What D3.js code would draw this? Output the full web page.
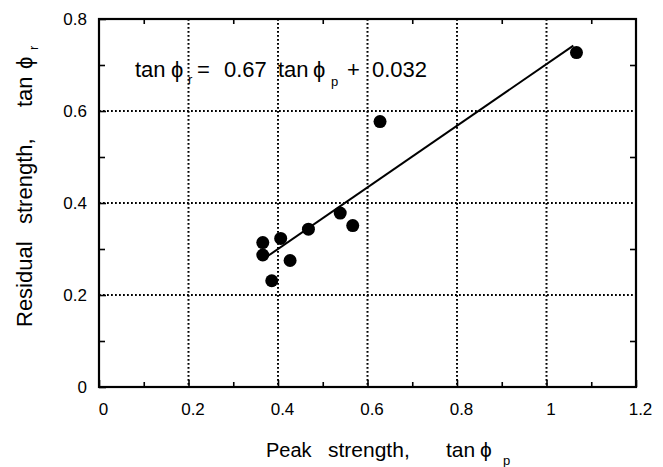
<!DOCTYPE html>
<html>
<head>
<meta charset="utf-8">
<script src="https://cdn.jsdelivr.net/npm/d3@7"></script>
<style>
  body { margin: 0; background: #fff; }
  svg { display: block; font-family: "Liberation Sans", Arial, sans-serif; }
  text { white-space: pre; }
</style>
</head>
<body>
<div id="chart"></div>
<script>
// measured points (peak tan phi, residual tan phi)
var peak = [0.366, 0.366, 0.406, 0.427, 0.386, 0.468, 0.539, 0.567, 0.628, 1.067]
var residual = [0.314, 0.287, 0.323, 0.275, 0.231, 0.343, 0.378, 0.351, 0.577, 0.727]

// regression line tan phi_r = 0.67 tan phi_p + 0.032
var slope = 0.67, intercept = 0.032
var fitRange = [0.37, 1.06]

var xTicks = [0, 0.2, 0.4, 0.6, 0.8, 1, 1.2]
var yTicks = [0, 0.2, 0.4, 0.6, 0.8]
var minorX = [0.1, 0.3, 0.5, 0.7, 0.9, 1.1]
var minorY = [0.1, 0.3, 0.5, 0.7]

var W = 663, H = 467
var margin = {top: 19, right: 27, bottom: 80, left: 99}
var width = W - margin.left - margin.right,
    height = H - margin.top - margin.bottom

var svg = d3.select("#chart").append("svg")
    .attr("width", W)
    .attr("height", H)
var g = svg.append("g")
    .attr("transform", "translate(" + margin.left + "," + margin.top + ")")

var x = d3.scaleLinear().domain([0, 1.2]).range([0, width])
var y = d3.scaleLinear().domain([0, 0.8]).range([height, 0])

// dotted grid
g.append("g").selectAll("line")
  .data(xTicks.slice(1, -1))
  .enter().append("line")
    .attr("x1", d => x(d)).attr("x2", d => x(d))
    .attr("y1", 0).attr("y2", height)
    .attr("stroke", "#000").attr("stroke-width", 2)
    .attr("stroke-dasharray", "1.8,2.2")
g.append("g").selectAll("line")
  .data(yTicks.slice(1, -1))
  .enter().append("line")
    .attr("y1", d => y(d)).attr("y2", d => y(d))
    .attr("x1", 0).attr("x2", width)
    .attr("stroke", "#000").attr("stroke-width", 2)
    .attr("stroke-dasharray", "1.8,2.2")

// axes with inward ticks on all sides
function tickAxis(axis, transform) {
  g.append("g").attr("transform", transform).call(axis)
    .call(a => a.select(".domain").remove())
    .selectAll("line").attr("stroke", "#000").attr("stroke-width", 1.6)
}
tickAxis(d3.axisBottom(x).tickValues(minorX).tickSize(-5).tickFormat(""), "translate(0," + height + ")")
tickAxis(d3.axisTop(x).tickValues(minorX).tickSize(-5).tickFormat(""), "translate(0,0)")
tickAxis(d3.axisLeft(y).tickValues(minorY).tickSize(-6).tickFormat(""), "translate(0,0)")
tickAxis(d3.axisRight(y).tickValues(minorY).tickSize(-6).tickFormat(""), "translate(" + width + ",0)")
tickAxis(d3.axisBottom(x).tickValues(xTicks).tickSize(-7).tickFormat(""), "translate(0," + height + ")")
tickAxis(d3.axisLeft(y).tickValues(yTicks).tickSize(-7).tickFormat(""), "translate(0,0)")

// tick labels
var xl = g.append("g").attr("transform", "translate(0," + height + ")")
  .call(d3.axisBottom(x).tickValues(xTicks).tickSize(0).tickPadding(16).tickFormat(d3.format("")))
xl.select(".domain").remove()
xl.attr("font-size", 17).attr("font-family", "Liberation Sans, Arial, sans-serif")
xl.selectAll("text").attr("fill", "#000").attr("dx", 4)

var yl = g.append("g")
  .call(d3.axisLeft(y).tickValues(yTicks).tickSize(0).tickPadding(12).tickFormat(d3.format("")))
yl.select(".domain").remove()
yl.attr("font-size", 17).attr("font-family", "Liberation Sans, Arial, sans-serif")
yl.selectAll("text").attr("fill", "#000")

// frame
g.append("rect")
  .attr("width", width).attr("height", height)
  .attr("fill", "none").attr("stroke", "#000").attr("stroke-width", 2.2)

// fit line
g.append("line")
  .attr("x1", x(fitRange[0])).attr("y1", y(slope * fitRange[0] + intercept))
  .attr("x2", x(fitRange[1])).attr("y2", y(slope * fitRange[1] + intercept))
  .attr("stroke", "#000").attr("stroke-width", 2)

// points
g.append("g").selectAll("circle")
  .data(peak.map((p, i) => [p, residual[i]]))
  .enter().append("circle")
    .attr("cx", d => x(d[0]))
    .attr("cy", d => y(d[1]))
    .attr("r", 6.5)
    .attr("fill", "#000")

// text helper: pieces [string, x, baseline y, size]
function label(parent, pieces) {
  var t = parent.append("text").attr("fill", "#000")
  pieces.forEach(function(p) {
    t.append("tspan").attr("x", p[1]).attr("y", p[2]).attr("font-size", p[3]).text(p[0])
  })
  return t
}

// equation
label(svg, [
  ["tan", 135, 77, 22], ["\u03d5", 171, 77, 22], ["r", 188, 84, 13],
  ["=", 197, 77, 22], ["0.67", 224, 77, 22],
  ["tan", 278, 77, 22], ["\u03d5", 313, 77, 22], ["p", 331, 86, 13],
  ["+", 347, 77, 22], ["0.032", 372, 77, 22]
])

// x label
label(svg, [
  ["Peak", 266, 457, 20], ["strength,", 328, 457, 21],
  ["tan", 446, 457, 21], ["\u03d5", 480, 457, 21], ["p", 503, 465, 13]
])

// y label (rotated; x = -screen y)
label(svg.append("g").attr("transform", "translate(32,0) rotate(-90)"), [
  ["Residual", -327, 0, 22], ["strength,", -224, 0, 22],
  ["tan", -107, 0, 22], ["\u03d5", -69, 0, 22], ["r", -50, 6, 13]
])
</script>
</body>
</html>
